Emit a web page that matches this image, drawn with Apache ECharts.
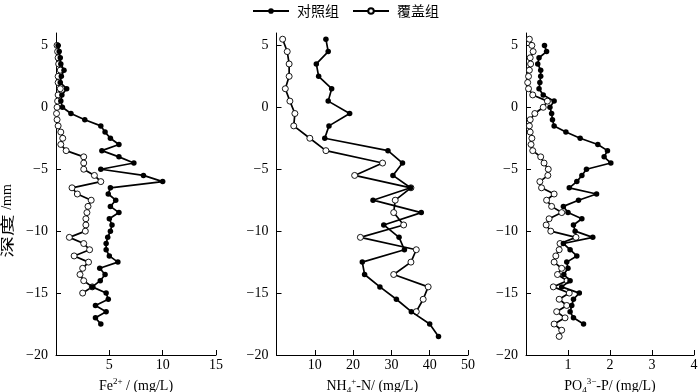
<!DOCTYPE html>
<html><head><meta charset="utf-8">
<script src="https://cdn.jsdelivr.net/npm/echarts@6/dist/echarts.min.js"></script>
<style>html,body{margin:0;padding:0;background:#fff}#c{width:700px;height:392px}</style>
</head><body><div id="c"></div>
<script>
// depths (mm)
const depthHalf5 = [5,4.5,4,3.5,3,2.5,2,1.5,1,0.5,0,-0.5,-1,-1.5,-2,-2.5,-3,-3.5,-4,-4.5,-5,-5.5,-6,-6.5,-7,-7.5,-8,-8.5,-9,-9.5,-10,-10.5,-11,-11.5,-12,-12.5,-13,-13.5,-14,-14.5,-15,-15.5,-16,-16.5,-17,-17.5];
const depthHalf55 = [5.5,5,4.5,4,3.5,3,2.5,2,1.5,1,0.5,0,-0.5,-1,-1.5,-2,-2.5,-3,-3.5,-4,-4.5,-5,-5.5,-6,-6.5,-7,-7.5,-8,-8.5,-9,-9.5,-10,-10.5,-11,-11.5,-12,-12.5,-13,-13.5,-14,-14.5,-15,-15.5,-16,-16.5,-17,-17.5,-18,-18.5];
const depthOne = [5.5,4.5,3.5,2.5,1.5,0.5,-0.5,-1.5,-2.5,-3.5,-4.5,-5.5,-6.5,-7.5,-8.5,-9.5,-10.5,-11.5,-12.5,-13.5,-14.5,-15.5,-16.5,-17.5,-18.5];

// Fe2+ (mg/L)
const feCtrl = [0.2,0.3,0.4,0.45,0.75,0.5,0.4,1.0,0.55,0.45,
  0.6,1.4,2.7,4.2,4.6,5.1,5.9,4.3,5.9,7.3,
  4.2,8.2,10.0,5.1,4.9,5.6,5.1,5.9,5.0,5.25,
  5.1,4.85,4.7,4.7,5.0,5.8,4.1,4.6,4.15,3.4,
  4.7,4.9,3.7,4.7,3.7,4.2];
const feCover = [0.1,0.15,0.2,0.25,0.4,0.2,0.2,0.4,0.2,0.15,
  0.1,0.05,0.1,0.2,0.45,0.63,0.45,0.95,2.6,2.6,
  2.6,3.6,4.2,1.5,2.0,3.3,3.0,2.9,2.8,2.8,
  2.75,1.25,2.6,3.15,1.7,3.05,2.5,2.25,2.6,3.4,
  2.5];

// NH4+-N (mg/L)
const nhCtrl = [12.9,13.5,10.4,11.0,14.4,13.5,19.1,13.7,12.6,29.1,32.9,30.4,35.0,25.2,37.8,28.0,32.0,33.4,22.4,23.0,27.0,31.3,35.2,40.0,42.3];
const nhCover = [1.6,2.8,3.3,3.3,2.3,3.5,4.8,4.5,8.7,12.9,27.7,20.4,35.1,31.0,30.6,33.2,21.9,36.5,35.1,30.6,39.6,38.3,36.5];

// PO4 3- -P (mg/L)
const poCtrl = [0.44,0.49,0.31,0.28,0.35,0.35,0.33,0.31,0.41,0.67,
  0.57,0.61,0.63,0.67,0.95,1.29,1.71,1.94,1.86,2.02,
  1.44,1.33,1.21,1.03,1.68,1.25,0.89,1.0,1.33,1.13,
  1.17,1.59,0.89,1.05,1.21,0.97,1.0,0.9,1.05,0.85,
  1.27,1.13,1.09,1.05,1.13,1.37];
const poCover = [0.08,0.14,0.17,0.1,0.11,0.08,0.06,0.04,0.06,0.16,
  0.51,0.41,0.21,0.1,0.08,0.1,0.14,0.12,0.16,0.35,
  0.43,0.53,0.52,0.33,0.37,0.67,0.49,0.61,0.85,0.55,
  0.48,0.59,1.19,0.81,0.79,0.71,0.67,0.85,0.75,0.98,
  0.65,1.03,0.79,0.97,0.73,0.93,0.67,0.85,0.79];

const yTicks = [-20,-15,-10,-5,0,5];
const xTicks = [[5,10,15],[10,20,30,40,50],[1,2,3,4]];
const xMax = [15,50,4];
const seriesNames = ['对照组','覆盖组'];

const serif = '"Liberation Serif","DejaVu Serif",serif';
const cjk = '"Noto Sans CJK SC","Liberation Serif",serif';
const grids = [
  {left:56, top:33, width:160, height:322, outerBoundsMode:'none', containLabel:false},
  {left:276.5, top:33, width:191.5, height:322, outerBoundsMode:'none', containLabel:false},
  {left:526, top:33, width:168, height:322, outerBoundsMode:'none', containLabel:false}
];
const richBase = {
  t:{fontFamily:serif,fontSize:14,color:'#000',lineHeight:18},
  sup:{fontFamily:serif,fontSize:9,color:'#000',verticalAlign:'top',lineHeight:9},
  sub:{fontFamily:serif,fontSize:9,color:'#000',verticalAlign:'bottom',lineHeight:9}
};
const xNames = [
  '{t|Fe}{sup|2+}{t| / (mg/L)}',
  '{t|NH}{sub|4}{sup|+}{t|-N/ (mg/L)}',
  '{t|PO}{sub|4}{sup|3−}{t|-P/ (mg/L)}'
];
const axisLine = {show:true,onZero:false,lineStyle:{color:'#000',width:1}};
const xAxis = grids.map((g,i)=>({
  type:'value', gridIndex:i, min:0, max:xMax[i],
  axisLine, splitLine:{show:false},
  axisTick:{show:true,inside:true,length:5,customValues:xTicks[i],lineStyle:{color:'#000'}},
  axisLabel:{customValues:xTicks[i],color:'#000',fontFamily:serif,fontSize:14,margin:3},
  name:xNames[i], nameLocation:'middle', nameGap:12,
  nameTextStyle:{rich:richBase}
}));
const yAxis = grids.map((g,i)=>({
  type:'value', gridIndex:i, min:-20, max:6,
  axisLine, splitLine:{show:false},
  axisTick:{show:true,inside:true,length:5,customValues:yTicks,lineStyle:{color:'#000'}},
  axisLabel:{customValues:yTicks,color:'#000',fontFamily:serif,fontSize:14,margin:8,
    formatter:v=> v<0 ? '\u2212'+(-v) : String(v)}
}));
function pts(vals, depths){ return vals.map((v,k)=>[v, depths[k]]); }
function ctrl(i,data){ return {name:seriesNames[0],type:'line',xAxisIndex:i,yAxisIndex:i,data,silent:true,
  symbol:'circle',symbolSize:5.5,itemStyle:{color:'#000'},lineStyle:{color:'#000',width:1.7},z:3}; }
function cover(i,data){ return {name:seriesNames[1],type:'line',xAxisIndex:i,yAxisIndex:i,data,silent:true,
  symbol:'circle',symbolSize:6,itemStyle:{color:'#fff',borderColor:'#000',borderWidth:0.9},
  lineStyle:{color:'#000',width:1.7},z:2}; }

const chart = echarts.init(document.getElementById('c'),null,{renderer:'canvas'});
chart.setOption({
  animation:false,
  backgroundColor:'#fff',
  grid:grids,
  xAxis, yAxis,
  legend:{top:-1,left:247,itemWidth:36,itemHeight:7,itemGap:13,
    data:seriesNames, selectedMode:false,
    textStyle:{fontFamily:cjk,fontSize:14,color:'#000',padding:[0,0,0,3]}},
  graphic:[
    {type:'text',x:7,y:197,rotation:Math.PI/2,silent:true,
      style:{text:'/mm',font:'14px '+serif,fill:'#000',align:'center',verticalAlign:'middle'}},
    {type:'text',x:7,y:236,rotation:Math.PI/2,scaleX:1.55,silent:true,
      style:{text:'深度',font:'14px '+cjk,fill:'#000',align:'center',verticalAlign:'middle'}}
  ],
  series:[
    ctrl(0,pts(feCtrl,depthHalf5)), cover(0,pts(feCover,depthHalf5)),
    ctrl(1,pts(nhCtrl,depthOne)), cover(1,pts(nhCover,depthOne)),
    ctrl(2,pts(poCtrl,depthHalf5)), cover(2,pts(poCover,depthHalf55))
  ]
});
</script></body></html>
